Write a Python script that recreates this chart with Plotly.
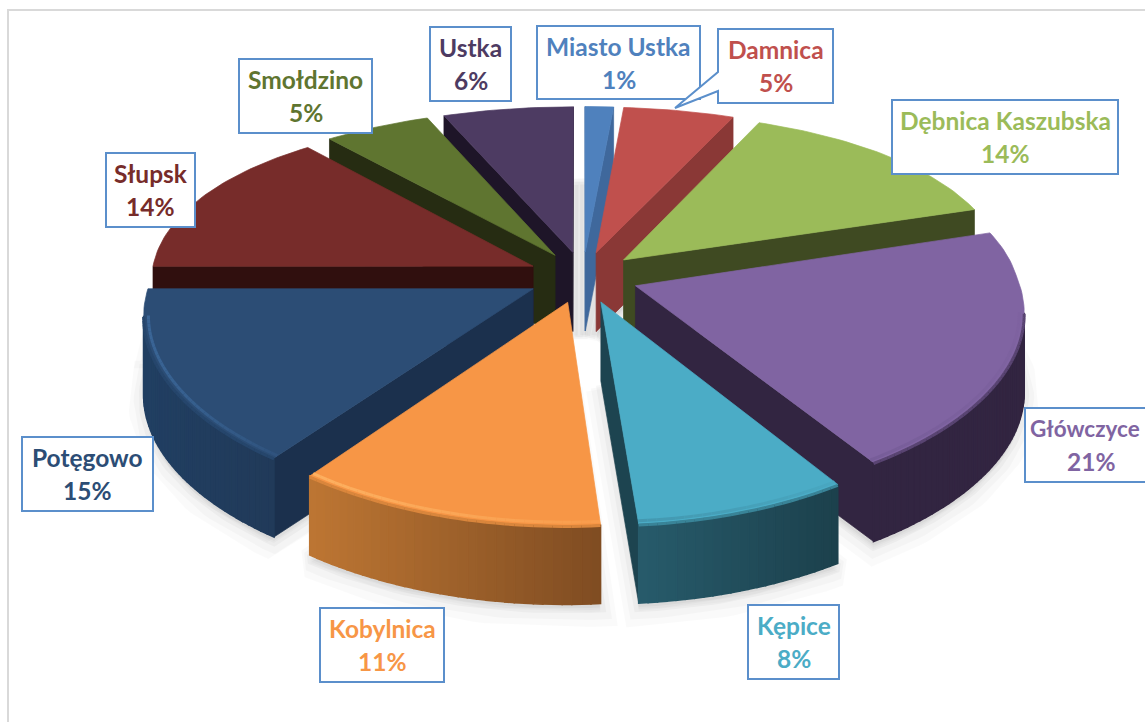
import math
import plotly.graph_objects as go

# ---------- data ----------
categories = ["Miasto Ustka", "Damnica", "Dębnica Kaszubska", "Główczyce", "Kępice",
              "Kobylnica", "Potęgowo", "Słupsk", "Smołdzino", "Ustka"]
values = [1.3, 5.1, 13.6, 21, 7.75, 11.25, 15, 14, 5, 6]

# ---------- styles ----------
top_colors = ["#4F81BD", "#C0504D", "#9BBB59", "#8064A2", "#4BACC6",
              "#F79646", "#2C4D75", "#772C2A", "#5F7530", "#4D3B62"]
cut_colors = ["#3F689C", "#8A3836", "#3F4A22", "#322541", "#1D4450",
              "#1B304D", "#1B304D", "#300F0E", "#262C12", "#1E1528"]
wall_left = ["#3F689C", "#8A3836", "#3F4A22", "#322541", "#275B6B",
             "#BD7633", "#213F62", "#300F0E", "#262C12", "#1E1528"]
wall_right = ["#3F689C", "#8A3836", "#3F4A22", "#322541", "#1C404C",
              "#7F4C22", "#213A59", "#300F0E", "#262C12", "#1E1528"]
bevel_colors = ["#4F81BD", "#C0504D", "#9BBB59", "#775D99", "#4398B0",
                "#FDB060", "#3A6596", "#772C2A", "#5F7530", "#4D3B62"]
boxes = {  # left, top, right, bottom of each label box
    "Miasto Ustka": (537, 26, 700, 99),
    "Damnica": (718, 29, 833, 103),
    "Dębnica Kaszubska": (892, 100, 1118, 174),
    "Główczyce": (1025, 408, 1160, 482),
    "Kępice": (748, 605, 839, 679),
    "Kobylnica": (320, 608, 444, 682),
    "Potęgowo": (22, 437, 153, 511),
    "Słupsk": (106, 153, 195, 227),
    "Smołdzino": (239, 59, 372, 133),
    "Ustka": (430, 27, 511, 101),
}
BOX_LINE = "#5B8FCB"
FONT = "Lato, Carlito, 'Open Sans', sans-serif"
FONT_SIZE = 24.5

# ---------- projection of the tilted pie ----------
CX, CY = 583, 277
SX, SY = 382, 177
KX_FRONT, KX_BACK, KY = 0.13, 0.08, 0.165
EXPLODE = 0.145
DEPTH = 79


def project(X, Y):
    kx = KX_FRONT if Y < 0 else KX_BACK
    return CX + SX * X / (1 + kx * Y), CY - SY * Y / (1 + KY * Y)


def hex_rgb(c):
    return tuple(int(c[i:i + 2], 16) for i in (1, 3, 5))


def mix(a, b, t):
    ra, rb = hex_rgb(a), hex_rgb(b)
    return "rgb(%d,%d,%d)" % tuple(round(ra[i] + (rb[i] - ra[i]) * t) for i in range(3))


total = sum(values)
slices = []
start = 0.0
for i, v in enumerate(values):
    end = start + v / total * 2 * math.pi
    mid = (start + end) / 2
    ox, oy = EXPLODE * math.sin(mid), EXPLODE * math.cos(mid)
    n = max(6, int(v * 3))
    arc, inner = [], []
    for k in range(n + 1):
        a = start + (end - start) * k / n
        arc.append(project(ox + math.sin(a), oy + math.cos(a)))
        inner.append(project(ox + 0.988 * math.sin(a), oy + 0.988 * math.cos(a)))
    slices.append(dict(i=i, apex=project(ox, oy), arc=arc, inner=inner, order=oy))
    start = end

fig = go.Figure()


def poly(xs, ys, color, width=0.7):
    fig.add_trace(go.Scatter(x=xs, y=ys, mode="lines", fill="toself", fillcolor=color,
                             line=dict(color=color, width=width), hoverinfo="skip",
                             showlegend=False))


def stroke(xs, ys, color, width):
    fig.add_trace(go.Scatter(x=xs, y=ys, mode="lines", line=dict(color=color, width=width),
                             hoverinfo="skip", showlegend=False))


# soft shadow below the pieces
for s in slices:
    pts = [s["apex"]] + s["arc"]
    xs = [p[0] for p in pts] + [pts[0][0]]
    for off, w, alpha in [(DEPTH + 8, 30, 0.018), (DEPTH + 6, 20, 0.025), (DEPTH + 4, 10, 0.03)]:
        ys = [p[1] + off for p in pts] + [pts[0][1] + off]
        fig.add_trace(go.Scatter(x=xs, y=ys, mode="lines", fill="toself",
                                 fillcolor="rgba(0,0,0,%g)" % alpha,
                                 line=dict(color="rgba(0,0,0,%g)" % alpha, width=w),
                                 hoverinfo="skip", showlegend=False))

# pieces, back to front
for s in sorted(slices, key=lambda d: -d["order"]):
    i, apex, arc, inner = s["i"], s["apex"], s["arc"], s["inner"]
    # cut faces
    for p, q in [(apex, arc[0]), (arc[-1], apex)]:
        if q[0] - p[0] < 0:
            poly([p[0], q[0], q[0], p[0], p[0]],
                 [p[1], q[1], q[1] + DEPTH, p[1] + DEPTH, p[1]], cut_colors[i])
    # outer wall
    xmin, xmax = min(p[0] for p in arc), max(p[0] for p in arc)
    rim = []
    for k in range(len(arc) - 1):
        p, q = arc[k], arc[k + 1]
        if q[0] - p[0] < 0:
            t = ((p[0] + q[0]) / 2 - xmin) / max(1, xmax - xmin)
            poly([p[0], q[0], q[0], p[0], p[0]],
                 [p[1], q[1], q[1] + DEPTH, p[1] + DEPTH, p[1]],
                 mix(wall_left[i], wall_right[i], t), width=1.6)
            rim.append((k, t))
    # top face
    pts = [apex] + arc + [apex]
    poly([p[0] for p in pts], [p[1] for p in pts], top_colors[i])
    # rounded rim, fading towards the right
    for k, t in rim:
        stroke([arc[k][0], arc[k + 1][0]], [arc[k][1] + 1, arc[k + 1][1] + 1],
               mix(top_colors[i], wall_left[i], 0.5), 3)
        stroke([inner[k][0], inner[k + 1][0]], [inner[k][1], inner[k + 1][1]],
               mix(bevel_colors[i], top_colors[i], 0.75 * t), 3)

# ---------- label boxes and text ----------
shapes = [dict(type="path", path="M 8 722 L 8 10 L 1145 10", xref="x", yref="y",
               line=dict(color="#D9D9D9", width=2))]
annotations = []
for i, name in enumerate(categories):
    l, t, r, b = boxes[name]
    if name == "Damnica":
        path = f"M {l} {t} H {r} V {b} H {l} V {b - 12} L 675 108 L {l} {b - 31} Z"
    else:
        path = f"M {l} {t} H {r} V {b} H {l} Z"
    shapes.append(dict(type="path", path=path, xref="x", yref="y", fillcolor="white",
                       line=dict(color=BOX_LINE, width=2)))
    edge_label = name == "Główczyce"
    name_x = l + 60 if edge_label else (l + r) / 2
    pct_x = l + 66 if edge_label else (l + r) / 2
    name_size = 22.5 if edge_label else FONT_SIZE
    pct = f"{round(values[i] / total * 100)}%"
    for text, x, dy, size in [(name, name_x, 20.5, name_size), (pct, pct_x, 53.5, FONT_SIZE)]:
        annotations.append(dict(x=x, y=t + dy, xref="x", yref="y", text=text, showarrow=False,
                                font=dict(family=FONT, size=size, color=top_colors[i], weight="bold"),
                                xanchor="center", yanchor="middle"))

fig.update_layout(
    width=1145, height=722, margin=dict(l=0, r=0, t=0, b=0),
    paper_bgcolor="white", plot_bgcolor="white", showlegend=False,
    xaxis=dict(range=[0, 1145], visible=False, fixedrange=True),
    yaxis=dict(range=[722, 0], visible=False, fixedrange=True),
    shapes=shapes, annotations=annotations,
)
fig.write_html("out.html", config={"displayModeBar": False},
               post_script="document.body.style.margin='0';document.documentElement.style.overflow='hidden';")
